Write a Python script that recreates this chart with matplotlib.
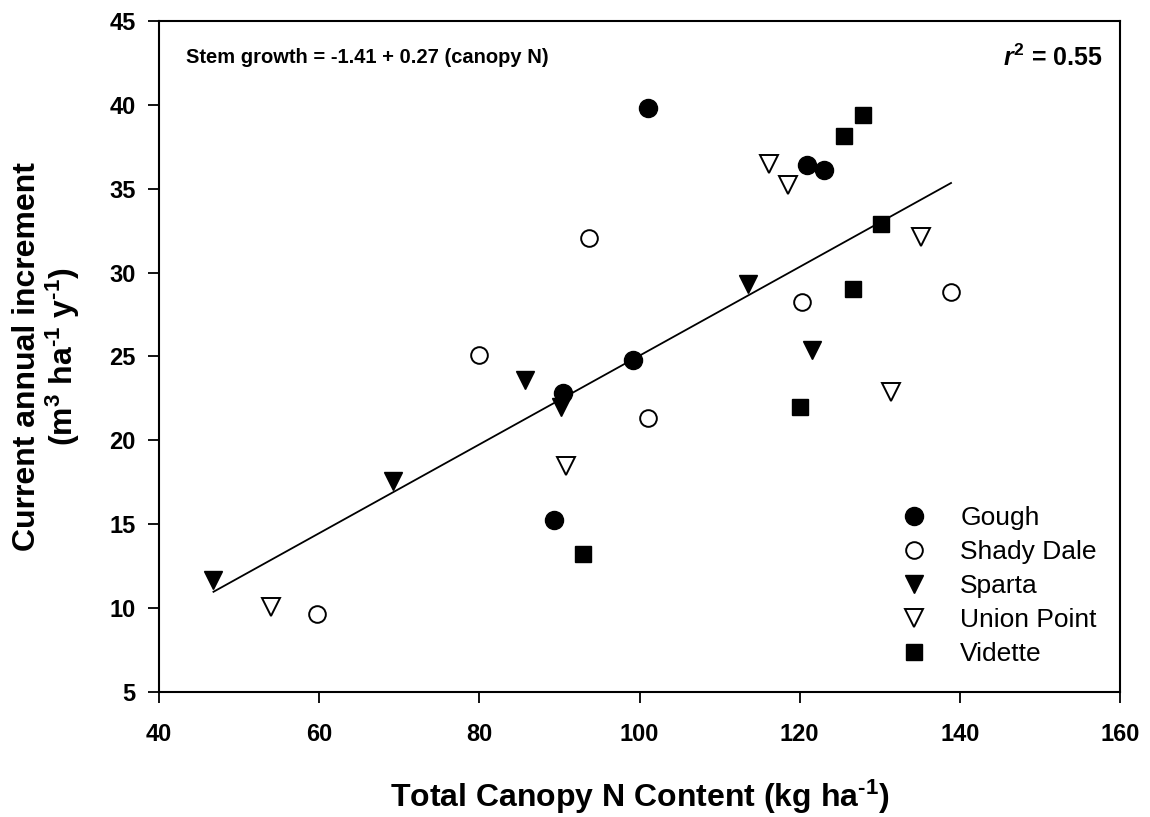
import matplotlib
matplotlib.use("Agg")
import matplotlib.pyplot as plt
import numpy as np

plt.rcParams['font.family'] = ['Liberation Sans', 'DejaVu Sans']
plt.rcParams['mathtext.fontset'] = 'custom'
plt.rcParams['mathtext.rm'] = 'Liberation Sans:bold'
plt.rcParams['mathtext.it'] = 'Liberation Sans:italic:bold'
plt.rcParams['mathtext.bf'] = 'Liberation Sans:bold'

# Data
gough_x = [101.0, 120.9, 123.1, 99.2, 90.5, 89.3]
gough_y = [39.84, 36.39, 36.09, 24.8, 22.8, 15.24]
shady_x = [59.7, 80.0, 93.7, 101.1, 120.3, 138.9]
shady_y = [9.62, 25.1, 32.06, 21.33, 28.25, 28.83]
sparta_x = [46.8, 69.2, 85.7, 90.2, 113.6, 121.6]
sparta_y = [11.7, 17.56, 23.57, 22.0, 29.35, 25.4]
union_x = [54.0, 90.8, 116.2, 118.6, 135.2, 131.4]
union_y = [10.05, 18.45, 36.5, 35.24, 32.12, 22.9]
vidette_x = [92.9, 120.0, 126.6, 130.1, 125.5, 127.9]
vidette_y = [13.25, 22.0, 29.05, 32.92, 38.17, 39.4]

fit_intercept = -1.41
fit_slope = 0.2646
fit_x = [46.8, 138.9]

x_ticks = [40, 60, 80, 100, 120, 140, 160]
y_ticks = [5, 10, 15, 20, 25, 30, 35, 40, 45]

fig = plt.figure(figsize=(11.5, 8.17), dpi=100)
ax = fig.add_axes([159/1150, 1 - 692/817, (1120-159)/1150, (692-21)/817])

fx = np.array(fit_x)
ax.plot(fx, fit_intercept + fit_slope * fx, color='black', lw=1.3, zorder=1)

ms = 13
ax.plot(gough_x, gough_y, 'o', ms=ms, mfc='black', mec='black', label='Gough', zorder=3)
ax.plot(shady_x, shady_y, 'o', ms=ms-1, mfc='white', mec='black', mew=1.4, label='Shady Dale', zorder=3)
ax.plot(sparta_x, sparta_y, 'v', ms=ms, mfc='black', mec='black', label='Sparta', zorder=3)
ax.plot(union_x, union_y, 'v', ms=ms, mfc='white', mec='black', mew=1.4, label='Union Point', zorder=3)
ax.plot(vidette_x, vidette_y, 's', ms=ms-2, mfc='black', mec='black', label='Vidette', zorder=3)

ax.set_xlim(40, 160)
ax.set_ylim(5, 45)
ax.set_xticks(x_ticks)
ax.set_yticks(y_ticks)
ax.tick_params(direction='out', length=8, width=1.3, labelsize=17)
for lab in ax.get_xticklabels() + ax.get_yticklabels():
    lab.set_fontweight('bold')
ax.tick_params(axis='x', pad=14)
ax.tick_params(axis='y', pad=9)
for s in ax.spines.values():
    s.set_linewidth(1.5)

ax.set_xlabel('Total Canopy N Content (kg ha$^{\\mathbf{\u2010 1}}$)', fontsize=23, fontweight='bold', labelpad=23)
ax.set_ylabel('Current annual increment\n(m$^{\\mathbf{3}}$ ha$^{\\mathbf{\u20101}}$ y$^{\\mathbf{\u20101}}$)',
              fontsize=23, fontweight='bold', linespacing=1.05)
ax.yaxis.set_label_coords(-0.080, 0.5)

ax.text(0.028, 0.945, 'Stem growth = -1.41 + 0.27 (canopy N)', transform=ax.transAxes,
        fontsize=14.5, fontweight='bold', ha='left', va='center')
ax.text(0.982, 0.945, '$\\mathit{r}^{\\mathbf{2}}$ = 0.55', transform=ax.transAxes,
        fontsize=18, fontweight='bold', ha='right', va='center')

ax.legend(loc='upper left', bbox_to_anchor=(0.772, 0.277), frameon=False, fontsize=19,
          handlelength=1.0, handletextpad=1.25, labelspacing=0.38, borderpad=0, borderaxespad=0,
          numpoints=1)

fig.savefig('out.png', dpi=100)
